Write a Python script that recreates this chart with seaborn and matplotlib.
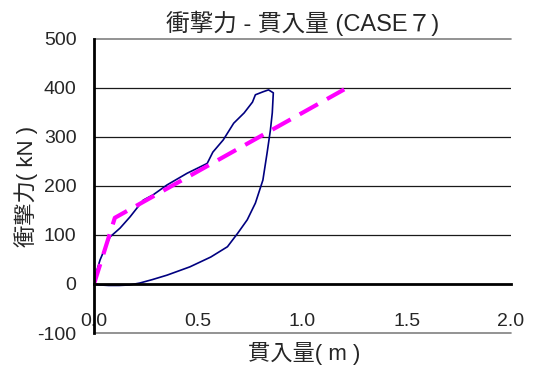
import matplotlib
matplotlib.use("Agg")
import matplotlib.pyplot as plt
import seaborn as sns
import pandas as pd

# data
load_x = [0, 0.01, 0.029, 0.053, 0.077, 0.125, 0.173, 0.236, 0.284, 0.35, 0.447, 0.50,
          0.543, 0.57, 0.62, 0.67, 0.72, 0.76, 0.774, 0.81, 0.837, 0.86]
load_y = [0, 22, 49, 73, 96, 114, 137, 171, 182, 202, 226, 237,
          246, 269, 294, 328, 349, 371, 386, 392, 396, 390]
unload_x = [0.855, 0.846, 0.83, 0.81, 0.774, 0.735, 0.69, 0.64, 0.56, 0.46, 0.35, 0.28,
            0.22, 0.17, 0.12, 0.07, 0.03, 0.0]
unload_y = [349, 314, 267, 212, 165, 131, 104, 76, 55, 35, 18, 9,
            2, -2, -3, -3, -2, 0]
model_x = [0, 0.1, 1.2]
model_y = [0, 135, 397]

x_ticks = [0.0, 0.5, 1.0, 1.5, 2.0]
y_ticks = [-100, 0, 100, 200, 300, 400, 500]

sns.set_style("white")
plt.rcParams['font.family'] = ['Liberation Sans', 'Noto Sans CJK JP', 'DejaVu Sans']
plt.rcParams['axes.unicode_minus'] = False

fig = plt.figure(figsize=(5.34, 3.67), dpi=100)
ax = fig.add_axes([0.176, 0.0926, 0.781, 0.8014])

curve = pd.DataFrame({"x": load_x + unload_x, "y": load_y + unload_y})
model = pd.DataFrame({"x": model_x, "y": model_y})

for yv in [100, 200, 300, 400]:
    ax.axhline(yv, color="#1a1a1a", lw=0.9, zorder=0)
for yv in [500, -100]:
    ax.axhline(yv, color="#808080", lw=1.2, zorder=0, clip_on=False)

sns.lineplot(data=curve, x="x", y="y", sort=False, estimator=None, color="#000080", lw=1.2, ax=ax)
sns.lineplot(data=model, x="x", y="y", sort=False, estimator=None, color="#FF00FF", lw=3,
             ax=ax, dashes=False, linestyle=(0, (5, 2.5)))

ax.set_xlim(0, 2.0)
ax.set_ylim(-100, 500)
ax.set_xticks(x_ticks)
ax.set_xticklabels([f"{v:.1f}" for v in x_ticks])
ax.set_yticks(y_ticks)

for s in ["top", "right"]:
    ax.spines[s].set_visible(False)
ax.spines["bottom"].set_position(("data", 0))
ax.spines["bottom"].set_color("black")
ax.spines["bottom"].set_linewidth(2)
ax.spines["left"].set_color("black")
ax.spines["left"].set_linewidth(2)

ax.tick_params(axis="x", direction="in", length=6, width=1.5, pad=21, labelsize=14)
ax.tick_params(axis="y", direction="in", length=6, width=1.5, pad=12.5, labelsize=14)

ax.set_title("衝撃力 - 貫入量 (CASE７)", fontsize=17, pad=6)
ax.set_xlabel("貫入量( m )", fontsize=16)
ax.set_ylabel("衝撃力( kN )", fontsize=16)
ax.xaxis.set_label_coords(0.503, -0.031)
ax.yaxis.set_label_coords(-0.134, 0.497)

fig.savefig("out.png", dpi=100)
